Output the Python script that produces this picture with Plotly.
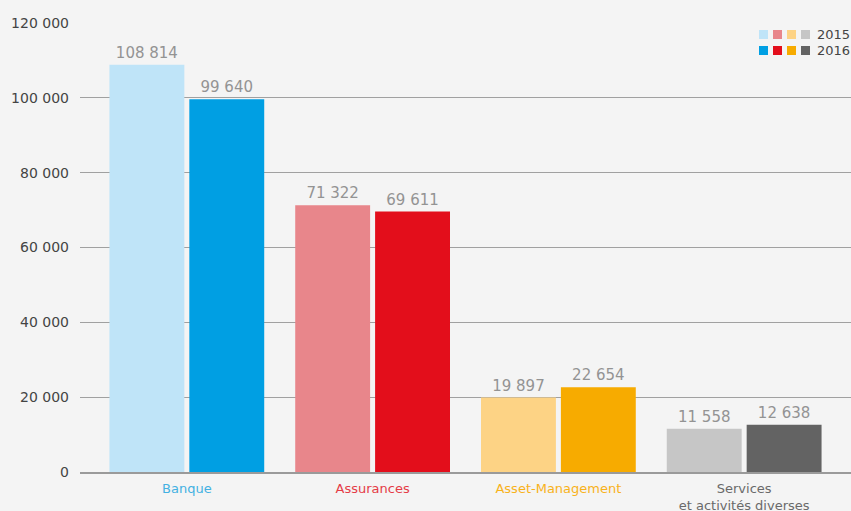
import plotly.graph_objects as go

categories = ["Banque", "Assurances", "Asset-Management", "Services<br>et activités diverses"]
values_2015 = [108814, 71322, 19897, 11558]
values_2016 = [99640, 69611, 22654, 12638]
colors_2015 = ["#bfe4f8", "#e8868b", "#fdd385", "#c6c6c6"]
colors_2016 = ["#009fe3", "#e30e1b", "#f7ab00", "#636363"]
label_colors = ["#43b1e2", "#e53c47", "#f8b21a", "#6a6a6a"]
years = ["2015", "2016"]
y_ticks = [0, 20000, 40000, 60000, 80000, 100000, 120000]

def fmt(v):
    return f"{v:,}".replace(",", " ")

W, H = 851, 511
L, R, T, B = 80, 0, 23, 39
pw, ph = W - L - R, H - T - B
FONT = "DejaVu Sans"

xs = list(range(len(categories)))
fig = go.Figure()
for vals, cols, name in [(values_2015, colors_2015, years[0]), (values_2016, colors_2016, years[1])]:
    fig.add_trace(go.Bar(
        x=xs, y=vals, name=name, marker=dict(color=cols, line=dict(width=0)),
        text=[fmt(v) for v in vals], textposition="outside",
        textfont=dict(size=15, color="#939393", family=FONT), cliponaxis=False,
        showlegend=False, hoverinfo="skip"))

# custom legend
def px_x(x):
    return (x - L) / pw
def px_y(y):
    return 1 - (y - T) / ph

shapes = []
annotations = []
for row, (cols, yr) in enumerate([(colors_2015, years[0]), (colors_2016, years[1])]):
    top = 30 + row * 16
    for i, c in enumerate(cols):
        x0 = 759 + i * 14
        shapes.append(dict(type="rect", xref="paper", yref="paper",
                           x0=px_x(x0), x1=px_x(x0 + 9), y0=px_y(top + 9), y1=px_y(top),
                           fillcolor=c, line=dict(width=0)))
    annotations.append(dict(xref="paper", yref="paper", x=px_x(815), y=px_y(top + 4.5),
                            xanchor="left", yanchor="middle", text=yr, showarrow=False,
                            font=dict(size=13, color="#444444", family=FONT)))

ticktext = [f"<span style='color:{c}'>{t}</span>" for t, c in zip(categories, label_colors)]

fig.update_layout(
    width=W, height=H,
    margin=dict(l=L, r=R, t=T, b=B, autoexpand=False),
    paper_bgcolor="#f4f4f4", plot_bgcolor="#f4f4f4",
    font=dict(family=FONT, size=13, color="#444444"),
    barmode="group", bargap=0.14, bargroupgap=0.0625,
    shapes=shapes, annotations=annotations,
    xaxis=dict(range=[-0.575, 3.575], tickvals=xs, ticktext=ticktext, automargin=False,
               showgrid=False, showline=True, linecolor="#9a9a9a", linewidth=2,
               ticks="", ticklabelstandoff=3, tickfont=dict(size=13, family=FONT), fixedrange=True),
    yaxis=dict(range=[0, 120000], tickvals=y_ticks, automargin=False,
               ticktext=[fmt(v) for v in y_ticks],
               showgrid=True, gridcolor="#a0a0a0", gridwidth=1, zeroline=False,
               ticks="", ticklabelstandoff=10, tickfont=dict(size=14, color="#444444", family=FONT)),
)
fig.write_html("out.html")
